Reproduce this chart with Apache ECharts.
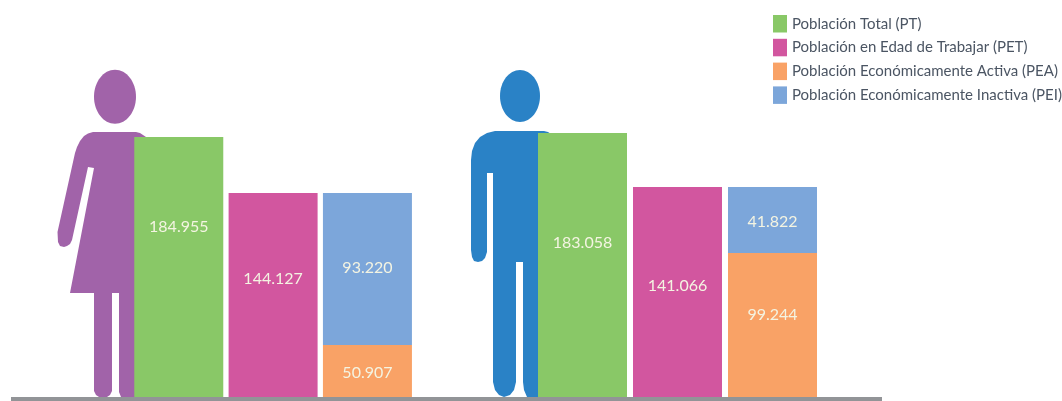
<!DOCTYPE html>
<html>
<head>
<meta charset="utf-8">
<style>html,body{margin:0;padding:0;background:#fff;}#chart{width:1062px;height:401px;}</style>
<script src="https://cdn.jsdelivr.net/npm/echarts@6/dist/echarts.min.js"></script>
</head>
<body>
<div id="chart"></div>
<script>
// bar groups: total, working age, active + inactive stacked
var categories = ['PT', 'PET', 'PEA/PEI'];
var seriesNames = [
    'Población Total (PT)',
    'Población en Edad de Trabajar (PET)',
    'Población Económicamente Activa (PEA)',
    'Población Económicamente Inactiva (PEI)'
];
// heights are read off the bars as drawn (thousands); the source graphic is not
// strictly to scale, so the printed figures are kept separately below
var femaleHeights = [185.0, 145.2, 37.0, 108.2];
var maleHeights = [187.9, 149.5, 102.5, 47.0];
var femaleLabels = ['184.955', '144.127', '50.907', '93.220'];
var maleLabels = ['183.058', '141.066', '99.244', '41.822'];

var colors = ['#89c867', '#d2569f', '#f9a266', '#7ca6da'];
var femaleLabelShift = [-40, -16, 2, -1];
var maleLabelShift = [-22, -6, -10, 2];
var slotOf = [0, 1, 2, 2];

function panelSeries(heights, labels, shifts, axisIndex) {
    return seriesNames.map(function (name, i) {
        var data = categories.map(function () { return null; });
        data[slotOf[i]] = heights[i];
        return {
            name: name,
            type: 'bar',
            stack: 'panel' + axisIndex,
            xAxisIndex: axisIndex,
            yAxisIndex: axisIndex,
            barWidth: 89,
            itemStyle: { color: colors[i] },
            label: {
                show: true,
                position: 'inside',
                offset: [0, shifts[i]],
                color: '#f4f4e2',
                fontFamily: 'Lato',
                fontSize: 16,
                formatter: function () { return labels[i]; }
            },
            data: data
        };
    });
}

function axisPair(index) {
    return {
        x: {
            type: 'category', gridIndex: index, data: categories,
            axisLine: { show: false }, axisTick: { show: false }, axisLabel: { show: false }
        },
        y: {
            type: 'value', gridIndex: index, min: 0, max: 200,
            axisLine: { show: false }, axisTick: { show: false }, axisLabel: { show: false }, splitLine: { show: false }
        }
    };
}
var axes = [axisPair(0), axisPair(1)];

// silhouettes behind the first bar of each group
var femaleBody = [[93,132],[136,132],[140,133],[143,135],[146,137],[146,397],[121,397],[119,392],[119,293],[112,293],[112,391],[110,395],[107,397],[99,397],[96,395],[94,391],[94,293],[70,293],[94,168],[88,167],[72,240],[70,244],[67,246],[64,247],[60,246],[58,242],[57.5,232],[75,153],[77,147],[80,141],[84,136],[88,133.5]];
var maleBody = [[495,131],[544,131],[548,132],[551,134],[551,397],[527,397],[524,390],[523,382],[523,262],[516,262],[516,382],[514,390],[510,395],[504,397],[499,395],[495,390],[493,382],[493,173],[487,173],[487,252],[485,258],[482,261],[478,262],[474,261],[472,257],[471,250],[471,160],[472,151],[475,143],[480,137],[487,133]];

var chart = echarts.init(document.getElementById('chart'));
chart.setOption({
    animation: false,
    backgroundColor: '#fff',
    color: colors,
    legend: {
        orient: 'vertical',
        left: 773,
        top: 15,
        itemWidth: 14,
        itemHeight: 17.5,
        itemGap: 6.3,
        icon: 'rect',
        padding: 0,
        data: seriesNames,
        textStyle: {
            color: '#4b5563',
            fontFamily: 'Lato',
            fontSize: 15,
            padding: [0, 0, 0, 0]
        }
    },
    grid: [
        { left: 131.6, top: 116, width: 283, height: 281 },
        { left: 535, top: 116, width: 285, height: 281 }
    ],
    xAxis: axes.map(function (a) { return a.x; }),
    yAxis: axes.map(function (a) { return a.y; }),
    graphic: [
        { type: 'ellipse', z: 1, shape: { cx: 115, cy: 96.7, rx: 21, ry: 27 }, style: { fill: '#a163a9' } },
        { type: 'polygon', z: 1, shape: { points: femaleBody }, style: { fill: '#a163a9' } },
        { type: 'ellipse', z: 1, shape: { cx: 520, cy: 96, rx: 20, ry: 26 }, style: { fill: '#2a82c6' } },
        { type: 'polygon', z: 1, shape: { points: maleBody }, style: { fill: '#2a82c6' } },
        { type: 'rect', z: 5, shape: { x: 11, y: 397, width: 871, height: 4 }, style: { fill: '#929497' } }
    ],
    series: panelSeries(femaleHeights, femaleLabels, femaleLabelShift, 0)
        .concat(panelSeries(maleHeights, maleLabels, maleLabelShift, 1))
});
</script>
</body>
</html>
